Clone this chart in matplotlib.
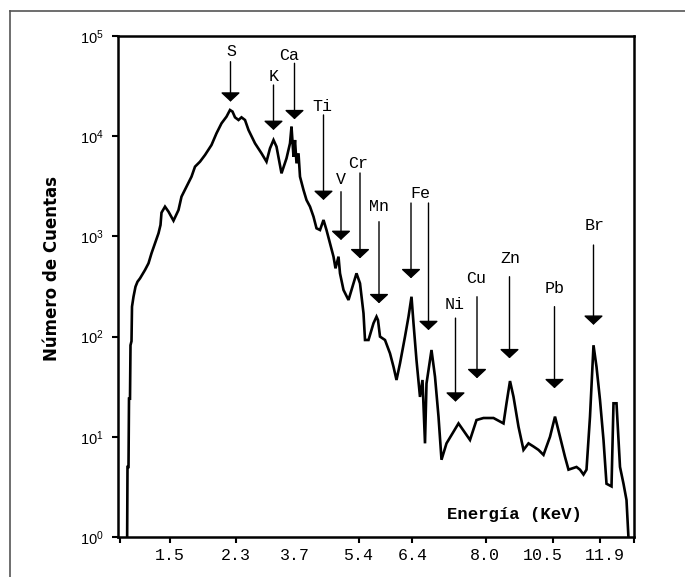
import math
import matplotlib
matplotlib.use("Agg")
import matplotlib.pyplot as plt
from matplotlib.ticker import FixedLocator, NullLocator, FuncFormatter
from matplotlib.lines import Line2D

# ---------------- data ----------------
channel = [19, 20, 22, 23, 25, 26, 28, 29, 32, 36, 40, 45, 55, 62, 68, 75, 82, 86, 88,
           95, 102, 112, 122, 128, 138, 148, 155, 165, 175, 188, 198, 208, 218, 225,
           230, 235, 242, 248, 255, 262, 275, 288, 298, 305, 312, 318, 328, 338, 345,
           348, 352, 355, 358, 362, 365, 372, 378, 385, 392, 398, 405, 412, 418, 425,
           432, 436, 442, 445, 452, 462, 468, 478, 485, 492, 495, 502, 512, 518, 521,
           525, 535, 545, 552, 558, 565, 575, 582, 588, 592, 598, 605, 610, 615, 618,
           628, 635, 642, 648, 658, 682, 705, 718, 732, 752, 772, 778, 785, 792, 802,
           812, 822, 832, 842, 852, 865, 875, 885, 895, 902, 918, 925, 932, 938, 945,
           952, 958, 965, 972, 978, 988, 992, 998, 1002, 1005, 1012, 1018, 1025]
counts = [0.5, 5, 5, 24, 24, 82, 90, 199, 250, 315, 353, 381, 462, 539, 678, 853, 1074, 1300, 1725,
          1981, 1766, 1435, 1834, 2493, 3134, 3945, 4963, 5570, 6490, 8170, 10690, 13440, 15670, 18260,
          17600, 15430, 14510, 15430, 14510, 11530, 8490, 6750, 5570, 7570, 9160, 7870, 4260, 6010, 8490,
          12450, 6250, 9160, 5360, 6750, 3945, 2905, 2308, 1981, 1574, 1205, 1158, 1458, 1158, 853,
          628, 480, 628, 428, 292, 232, 292, 428, 340, 171, 92.5, 92.5, 136, 158, 146,
          100, 92.5, 68, 50, 36.9, 54, 100, 158, 250, 136, 58, 25, 36.9, 8.6, 34,
          73.5, 39.8, 15.9, 5.9, 8.6, 13.6, 9.3, 14.7, 15.4, 15.4, 13.6, 21.6, 36, 25.1, 12.6,
          7.4, 8.6, 8.0, 7.4, 6.6, 10, 15.9, 10, 6.3, 4.7, 5.0, 4.7, 4.2, 4.7, 15.9,
          82, 50, 23.3, 9.3, 3.4, 3.2, 21.6, 21.6, 9.3, 5.0, 3.4, 2.34, 0.5]

# element markers: label, arrow channel, label channel, label level, arrow start level, arrow tip level
elements   = ["S", "K", "Ca", "Ti", "V", "Cr", "Mn", "Fe", "Fe", "Ni", "Cu", "Zn", "Pb", "Br"]
arrow_ch   = [226, 312, 354, 412, 447, 485, 523, 587, 622, 676, 719, 784, 874, 952]
label_ch   = [228, 312, 343, 409, 447, 482, 523, 605, None, 675, 718, 785, 875, 955]
label_cnt  = [69700, 39300, 64600, 20000, 3655, 5370, 1977, 2692, None, 207, 382, 604, 303, 1270]
start_cnt  = [55400, 32400, 53400, 16300, 2793, 4296, 1402, 2154, 2154, 153, 250, 396, 199, 820]
tip_cnt    = [22100, 11530, 14750, 2308, 920, 604, 215, 382, 116, 22.4, 38.4, 60.7, 30.5, 131]

tick_ch     = [5, 104, 236, 355, 482, 588, 736, 870, 965, 1033]
label_pos   = [105, 237, 355, 481, 591, 735, 851, 975]
tick_labels = ["1.5", "2.3", "3.7", "5.4", "6.4", "8.0", "10.5", "11.9"]

# ---------------- figure ----------------
plt.rcParams['mathtext.fontset'] = 'custom'
plt.rcParams['mathtext.rm'] = 'Liberation Sans'
plt.rcParams['mathtext.it'] = 'Liberation Sans'

fig = plt.figure(figsize=(6.85, 5.77), dpi=100)
ax = fig.add_axes([117.5/685, 1-537/577, (634-117.5)/685, (537-36)/577])

ax.plot(channel, counts, color='black', lw=1.9, solid_joinstyle='miter')
ax.set_yscale('log')
ax.set_ylim(1, 1e5)
ax.set_xlim(0, 1033)

for s in ax.spines.values():
    s.set_linewidth(1.8)

ax.yaxis.set_major_locator(FixedLocator([1, 10, 100, 1000, 1e4, 1e5]))
ax.yaxis.set_minor_locator(NullLocator())
ax.yaxis.set_major_formatter(FuncFormatter(lambda v, p: r'$10^{%d}$' % round(math.log10(v))))
ax.tick_params(axis='y', which='major', direction='out', length=4, width=1.5, pad=6,
               labelsize=10.5, colors='black')

ax.xaxis.set_major_locator(FixedLocator(label_pos))
ax.set_xticklabels(tick_labels, family='Liberation Mono', fontsize=12)
ax.xaxis.set_minor_locator(FixedLocator(tick_ch))
ax.tick_params(axis='x', which='major', length=0, pad=8)
ax.tick_params(axis='x', which='minor', direction='out', length=4, width=1.5)

# arrows and element labels
for name, xa, xl, yl, ys, yt in zip(elements, arrow_ch, label_ch, label_cnt, start_cnt, tip_cnt):
    ax.annotate('', xy=(xa, yt), xytext=(xa, ys),
                arrowprops=dict(arrowstyle='-|>,head_length=0.28,head_width=0.3',
                                mutation_scale=20, lw=1.0, color='black',
                                shrinkA=0, shrinkB=0))
    if xl is not None:
        ax.text(xl, yl, name, family='Liberation Mono', fontsize=12,
                ha='center', va='center')

ax.text(0.768, 0.044, 'Energía (KeV)', transform=ax.transAxes, family='Liberation Mono',
        fontweight='bold', fontsize=12.5, ha='center', va='center')

fig.text(52/685, 1-268/577, 'Número de Cuentas', rotation=90, ha='center', va='center',
         family=['Liberation Sans Narrow', 'DejaVu Sans'], fontweight='bold', fontsize=12)

# outer frame
fig.add_artist(Line2D([10/685, 10/685], [0, 1-11/577], transform=fig.transFigure,
                      color='#555555', lw=1.2))
fig.add_artist(Line2D([10/685, 1], [1-11/577, 1-11/577], transform=fig.transFigure,
                      color='#555555', lw=1.2))

fig.savefig('out.png', dpi=100)
